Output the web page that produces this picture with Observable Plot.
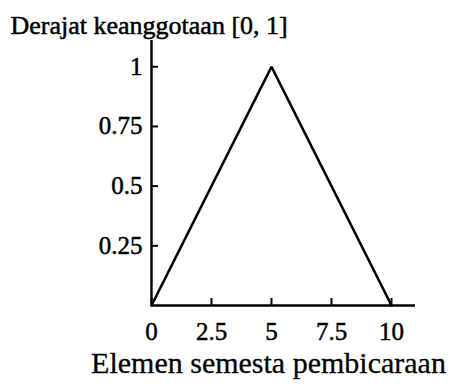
<!DOCTYPE html>
<html>
<head>
<meta charset="utf-8">
<script src="https://cdn.jsdelivr.net/npm/d3@7"></script>
<script src="https://cdn.jsdelivr.net/npm/@observablehq/plot@0.6"></script>
<style>
  html, body { margin: 0; padding: 0; background: #fff; }
</style>
</head>
<body>
<div id="chart"></div>
<script>
// Triangular membership function
const elements = [0, 5, 10];
const degrees = [0, 1, 0];
const xTicks = [0, 2.5, 5, 7.5, 10];
const yTicks = [0.25, 0.5, 0.75, 1];
const yLabel = "Derajat keanggotaan [0, 1]";
const xLabel = "Elemen semesta pembicaraan";

const serif = "'Liberation Serif', 'Times New Roman', serif";
const points = elements.map((x, i) => ({x, y: degrees[i]}));

const tickText = {fontSize: 25, fontFamily: serif, fontVariant: "normal", textStroke: "#000", textStrokeWidth: 0.5};

const chart = Plot.plot({
  width: 463,
  height: 386,
  marginLeft: 151,
  marginRight: 48,
  marginTop: 40,
  marginBottom: 81,
  style: {fontFamily: serif, fontSize: "25px", color: "#000", background: "#fff"},
  x: {domain: [0, 11]},
  y: {domain: [0, 1.11]},
  marks: [
    // inward-pointing ticks, labels outside
    Plot.axisX({ticks: xTicks, tickSize: -7, tickPadding: 24, tickFormat: d => String(d), label: null, strokeWidth: 2, ...tickText}),
    Plot.axisY({ticks: yTicks, tickSize: -7, tickPadding: 16, tickFormat: d => String(d), label: null, strokeWidth: 2, ...tickText}),
    Plot.ruleX([0], {strokeWidth: 2.4}),
    Plot.ruleY([0], {strokeWidth: 2.4}),
    Plot.line(points, {x: "x", y: "y", strokeWidth: 2.6, strokeLinejoin: "miter"}),
    Plot.text([yLabel], {frameAnchor: "top-left", dx: -141, dy: -7, lineAnchor: "bottom", textAnchor: "start", fontSize: 26, fontFamily: serif, fill: "#000", stroke: "#000", strokeWidth: 0.5}),
    Plot.text([xLabel], {frameAnchor: "bottom", dx: -15, dy: 46, lineAnchor: "top", fontSize: 30, fontFamily: serif, fill: "#000", stroke: "#000", strokeWidth: 0.3})
  ]
});
document.getElementById("chart").appendChild(chart);
</script>
</body>
</html>
